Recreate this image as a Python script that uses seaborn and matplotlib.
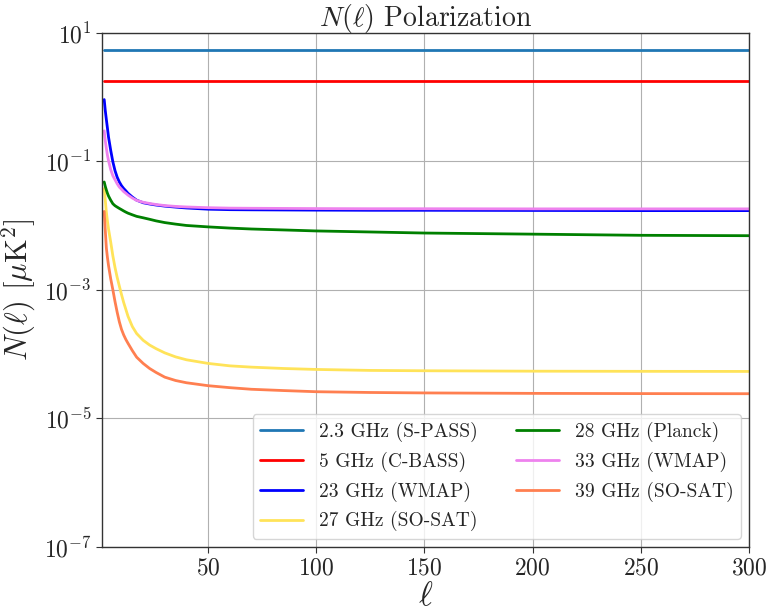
import numpy as np
import pandas as pd
import matplotlib
matplotlib.use("Agg")
import matplotlib.pyplot as plt
import seaborn as sns

ell = [2, 2.5, 3, 3.5, 4, 5, 6, 7, 8, 9, 10, 11, 12, 13, 15, 17, 20, 23, 26, 30, 35, 40,
       50, 60, 70, 85, 100, 125, 150, 200, 250, 300]

n_spass = [5.4] * len(ell)
n_cbass = [1.8] * len(ell)
n_wmap23 = [0.92, 0.62, 0.45, 0.33, 0.24, 0.15, 0.099, 0.072, 0.057, 0.048, 0.042, 0.038,
            0.035, 0.032, 0.028, 0.025, 0.0228, 0.0218, 0.021, 0.0202, 0.0195, 0.0189,
            0.0181, 0.0178, 0.0177, 0.0176, 0.0175, 0.0174, 0.0174, 0.0173, 0.0172, 0.0172]
n_soSAT27 = [0.038, 0.025, 0.0162, 0.0118, 0.0089, 0.0056, 0.0034, 0.00224, 0.00157,
             0.00115, 0.00085, 0.00064, 0.00050, 0.00039, 0.00027, 0.00021, 0.000165,
             0.000139, 0.000122, 0.000105, 0.000091, 0.000082, 0.000072, 0.000066,
             0.000063, 0.00006, 0.000058, 0.000056, 0.0000553, 0.0000545, 0.0000542, 0.000054]
n_planck28 = [0.048, 0.041, 0.036, 0.032, 0.029, 0.025, 0.022, 0.0205, 0.0195, 0.0186,
              0.0178, 0.0170, 0.0163, 0.0157, 0.0148, 0.0140, 0.0133, 0.0126, 0.0119,
              0.0112, 0.0106, 0.0101, 0.0096, 0.0092, 0.0089, 0.0086, 0.0083, 0.0080,
              0.0077, 0.0074, 0.0071, 0.0070]
n_wmap33 = [0.30, 0.21, 0.16, 0.125, 0.103, 0.075, 0.060, 0.052, 0.045, 0.040, 0.037, 0.034,
            0.032, 0.030, 0.027, 0.0248, 0.0232, 0.0222, 0.0214, 0.0206, 0.0200, 0.0196,
            0.0191, 0.0188, 0.0187, 0.0186, 0.0185, 0.0184, 0.0184, 0.0183, 0.0183, 0.0183]
n_soSAT39 = [0.0167, 0.0085, 0.0045, 0.0032, 0.0024, 0.0015, 0.00101, 0.00066, 0.00045,
             0.00032, 0.000244, 0.000200, 0.000170, 0.000148, 0.000114, 0.000090, 0.000072,
             0.000060, 0.000052, 0.000044, 0.000039, 0.000036, 0.0000324, 0.0000302,
             0.0000285, 0.0000272, 0.0000261, 0.0000254, 0.000025, 0.0000246, 0.0000244,
             0.0000243]

labels = ["2.3 GHz (S-PASS)", "5 GHz (C-BASS)", "23 GHz (WMAP)", "27 GHz (SO-SAT)",
          "28 GHz (Planck)", "33 GHz (WMAP)", "39 GHz (SO-SAT)"]
series = [n_spass, n_cbass, n_wmap23, n_soSAT27, n_planck28, n_wmap33, n_soSAT39]
colors = ["#1f77b4", "#ff0000", "#0000ff", "#ffe359", "#008000", "#ee82ee", "#ff7f50"]

frames = []
for lab, vals in zip(labels, series):
    frames.append(pd.DataFrame({"ell": ell, "N": vals, "band": lab}))
df = pd.concat(frames, ignore_index=True)

sns.set_style("white")
plt.rcParams["font.family"] = "serif"
plt.rcParams["font.serif"] = ["cmr10", "DejaVu Serif"]
plt.rcParams["mathtext.fontset"] = "cm"
plt.rcParams["axes.unicode_minus"] = False
plt.rcParams["axes.formatter.use_mathtext"] = True

fig = plt.figure(figsize=(7.66, 6.10), dpi=100)
ax = fig.add_axes([0.1332, 0.1033, 0.8446, 0.8426])

sns.lineplot(data=df, x="ell", y="N", hue="band", hue_order=labels,
             palette=dict(zip(labels, colors)), estimator=None, sort=False,
             linewidth=2, ax=ax)

ax.set_yscale("log")
ax.set_xlim(1, 300)
ax.set_ylim(1e-7, 1e1)
ax.set_yticks([1e-7, 1e-5, 1e-3, 1e-1, 1e1])
ax.yaxis.set_minor_locator(matplotlib.ticker.NullLocator())
ax.set_xticks([50, 100, 150, 200, 250, 300])
ax.tick_params(axis="both", which="major", labelsize=17, direction="out", length=4,
               color="#333333", left=True, bottom=True)
ax.grid(True, color="#b0b0b0", linewidth=0.8)
for s in ax.spines.values():
    s.set_color("#333333")
    s.set_linewidth(1.0)

ax.set_title(r"$N(\ell)$ Polarization", fontsize=20, pad=5)
ax.set_xlabel(r"$\ell$", fontsize=24, labelpad=2)
ax.set_ylabel(r"$N(\ell)$ $[\mu\mathrm{K}^2]$", fontsize=22, labelpad=4)

leg = ax.legend(loc="lower right", ncol=2, fontsize=14, frameon=True,
                handlelength=2.2, columnspacing=2.0, labelspacing=0.5,
                borderaxespad=0.4)
leg.get_frame().set_edgecolor("#cccccc")
leg.get_frame().set_alpha(0.8)

fig.savefig("out.png", dpi=100)
